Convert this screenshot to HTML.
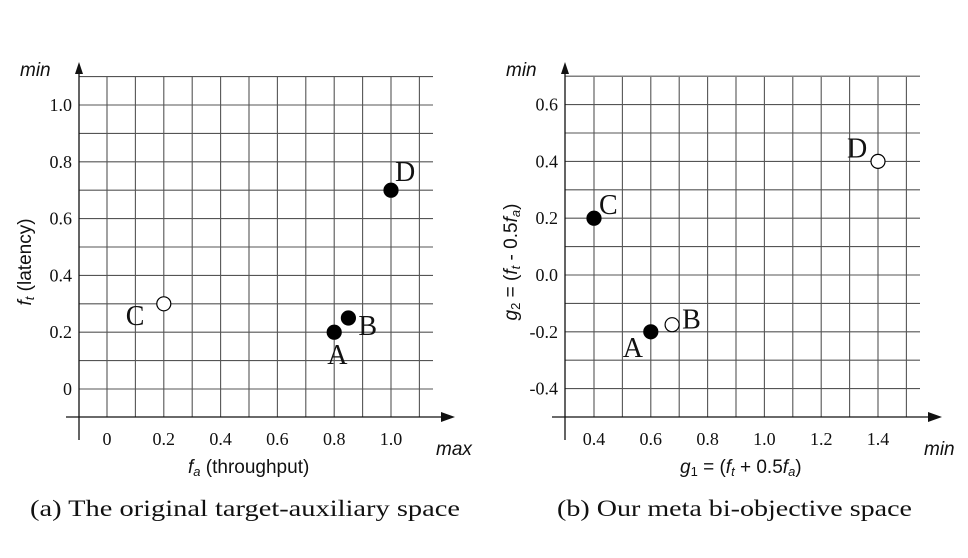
<!DOCTYPE html>
<html><head><meta charset="utf-8"><style>
html,body{margin:0;padding:0;background:#fff;}
svg{display:block;}
.tick{font-family:"Liberation Serif",serif;font-size:18px;fill:#111;}
.ttl{font-family:"Liberation Sans",sans-serif;font-size:19px;fill:#111;}
.mm{font-family:"Liberation Sans",sans-serif;font-size:19px;font-style:italic;fill:#111;}
.lab{font-family:"Liberation Serif",serif;font-size:28px;fill:#111;}
.cap{font-family:"Liberation Serif",serif;font-size:23px;fill:#111;}
</style></head><body>
<svg id="s" width="968" height="558" viewBox="0 0 968 558" xmlns="http://www.w3.org/2000/svg">
<g id="L"></g>
<g id="R"></g>
<text class="cap" x="30" y="516" textLength="430" lengthAdjust="spacingAndGlyphs">(a) The original target-auxiliary space</text>
<text class="cap" x="557" y="516" textLength="355" lengthAdjust="spacingAndGlyphs">(b) Our meta bi-objective space</text>
</svg>
<script>
const leftXTicks=[0,0.2,0.4,0.6,0.8,1.0];
const leftXTickLabels=["0","0.2","0.4","0.6","0.8","1.0"];
const leftYTicks=[0,0.2,0.4,0.6,0.8,1.0];
const leftYTickLabels=["0","0.2","0.4","0.6","0.8","1.0"];
const leftNames=["A","B","C","D"];
const leftX=[0.8,0.85,0.2,1.0];
const leftY=[0.2,0.25,0.3,0.7];
const leftFilled=[true,true,false,true];
const rightXTicks=[0.4,0.6,0.8,1.0,1.2,1.4];
const rightXTickLabels=["0.4","0.6","0.8","1.0","1.2","1.4"];
const rightYTicks=[-0.4,-0.2,0,0.2,0.4,0.6];
const rightYTickLabels=["-0.4","-0.2","0.0","0.2","0.4","0.6"];
const rightNames=["A","B","C","D"];
const rightX=[0.6,0.675,0.4,1.4];
const rightY=[-0.2,-0.175,0.2,0.4];
const rightFilled=[true,false,true,false];
const NS="http://www.w3.org/2000/svg";
function mk(p,t,a){const e=document.createElementNS(NS,t);for(const k in a)e.setAttribute(k,a[k]);p.appendChild(e);return e;}
function chart(g,o){
  const sx=v=>o.x0+(v-o.xv0)*284, sy=v=>o.y0-(v-o.yv0)*284;
  for(let i=0;i<12;i++){const x=o.x0+i*28.4;
    const l=mk(g,'line',{x1:x,x2:x,y1:77,y2:417,stroke:'#555','stroke-width':1.1});
    }
  for(let i=1;i<13;i++){const y=o.y0+Math.round((417-o.y0)/28.4)*28.4-i*28.4; if(y<76||y>=416)continue;
    const l=mk(g,'line',{x1:o.ax,x2:o.gr,y1:y,y2:y,stroke:'#555','stroke-width':1.1});
    }
  let a=mk(g,'line',{x1:o.ax-13,x2:o.gr+8,y1:417,y2:417,stroke:'#111','stroke-width':1.3});
  
  a=mk(g,'polygon',{points:`${o.gr+22},417 ${o.gr+8},412 ${o.gr+8},422`,fill:'#111'});
  
  a=mk(g,'line',{x1:o.ax,x2:o.ax,y1:440,y2:72,stroke:'#111','stroke-width':1.3});
  
  a=mk(g,'polygon',{points:`${o.ax},62 ${o.ax-4},74 ${o.ax+4},74`,fill:'#111'});
  
  o.xt.forEach((v,i)=>{const t=mk(g,'text',{x:sx(v),y:445,'text-anchor':'middle',class:'tick'});t.textContent=o.xl[i];
    });
  o.yt.forEach((v,i)=>{const t=mk(g,'text',{x:o.ax-7,y:sy(v)+6,'text-anchor':'end',class:'tick'});t.textContent=o.yl[i];
    });
  o.px.forEach((v,i)=>{const c=mk(g,'circle',{cx:sx(v),cy:sy(o.py[i]),r:7,fill:o.pf[i]?'#000':'#fff',stroke:'#000','stroke-width':1.2});
    
    const d=o.lo[i];const t=mk(g,'text',{x:sx(v)+d[0],y:sy(o.py[i])+d[1],class:'lab'});t.textContent=o.pn[i];
    });
}
const L=document.getElementById('L'),R=document.getElementById('R');
chart(L,{x0:107,xv0:0,y0:389,yv0:0,ax:79,gr:433,xt:leftXTicks,xl:leftXTickLabels,yt:leftYTicks,yl:leftYTickLabels,
  px:leftX,py:leftY,pf:leftFilled,pn:leftNames,lo:[[-7,32],[10,17],[-38,21],[4,-9]]});
chart(R,{x0:594,xv0:0.4,y0:275,yv0:0,ax:565,gr:920,xt:rightXTicks,xl:rightXTickLabels,yt:rightYTicks,yl:rightYTickLabels,
  px:rightX,py:rightY,pf:rightFilled,pn:rightNames,lo:[[-28,25],[10,4],[5,-4],[-31,-4]]});
function txt(p,x,y,cls,s,name,rot){const t=mk(p,'text',{x:x,y:y,class:cls});if(rot)t.setAttribute('transform',`rotate(-90 ${x} ${y})`),t.setAttribute('text-anchor','middle');
  t.innerHTML=s;return t;}
txt(L,20,76,'mm','min','y-min-label');
txt(L,436,455,'mm','max','x-max-label');
txt(L,188,473,'ttl','<tspan font-style="italic">f</tspan><tspan font-style="italic" font-size="13" dy="3">a</tspan><tspan dy="-3"> (throughput)</tspan>','x-axis-title');
txt(L,31,262,'ttl','<tspan font-style="italic">f</tspan><tspan font-style="italic" font-size="13" dy="3">t</tspan><tspan dy="-3"> (latency)</tspan>','y-axis-title',true);
txt(R,506,76,'mm','min','y-min-label');
txt(R,924,455,'mm','min','x-min-label');
txt(R,680,473,'ttl','<tspan font-style="italic">g</tspan><tspan font-size="13" dy="3">1</tspan><tspan dy="-3"> = (</tspan><tspan font-style="italic">f</tspan><tspan font-style="italic" font-size="13" dy="3">t</tspan><tspan dy="-3"> + 0.5</tspan><tspan font-style="italic">f</tspan><tspan font-style="italic" font-size="13" dy="3">a</tspan><tspan dy="-3">)</tspan>','x-axis-title');
txt(R,517,262,'ttl','<tspan font-style="italic">g</tspan><tspan font-size="13" dy="3">2</tspan><tspan dy="-3"> = (</tspan><tspan font-style="italic">f</tspan><tspan font-style="italic" font-size="13" dy="3">t</tspan><tspan dy="-3"> - 0.5</tspan><tspan font-style="italic">f</tspan><tspan font-style="italic" font-size="13" dy="3">a</tspan><tspan dy="-3">)</tspan>','y-axis-title',true);
</script>
</body></html>
